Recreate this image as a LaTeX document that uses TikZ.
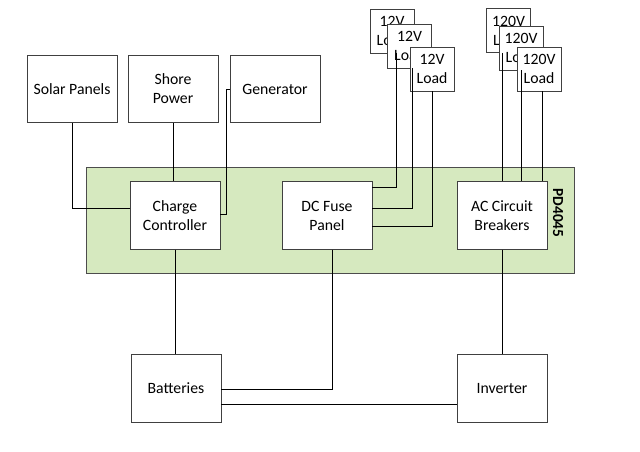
\documentclass[tikz,border=0pt]{standalone}
\usepackage{fontspec}
\setmainfont{Carlito}
\usepackage{tikz}

\begin{document}
\begin{tikzpicture}[x=0.75pt,y=-0.75pt,line width=0.6pt,align=center,
        font=\fontsize{11.8pt}{14.25pt}\selectfont,
        block/.style={draw=black!75,fill=white,minimum width=67.5pt,minimum height=50.6pt,inner sep=1pt},
        load/.style={block,minimum width=33pt,minimum height=33pt,inner sep=0pt},
        wire/.style={draw=black}]
        \useasboundingbox (0,0) rectangle (640,451);

        \node[draw=black!70,fill=green!30!olive!25!white,minimum width=366pt,minimum height=79.5pt] (pd) at (330,220) {};
        \node[rotate=-90,font=\fontsize{11.5pt}{14pt}\selectfont\bfseries] (pdname) at (558,213) {PD4045};

        \node[block] (sol) at (72,89) {Solar Panels};
        \node[block] (shore) at (173,89) {Shore\\Power};
        \node[block] (gen) at (275,89) {Generator};
        \node[block] (cc) at (175,215.5) {Charge\\Controller};
        \node[block] (dc) at (327,215.5) {DC Fuse\\Panel};
        \node[block] (ac) at (502,215.5) {AC Circuit\\Breakers};
        \node[block] (bat) at (176,388.5) {Batteries};
        \node[block] (inv) at (502,388.5) {Inverter};

        \node[load] (dl1) at (392,31) {12V\\Load};
        \node[load] (dl2) at (409.5,46) {12V\\Load};
        \node[load] (dl3) at (432,69) {12V\\Load};
        \node[load] (al1) at (508.5,30.5) {120V\\Load};
        \node[load] (al2) at (521,48) {120V\\Load};
        \node[load] (al3) at (539,69) {120V\\Load};

        \path[wire] (sol.south) |- ([yshift=5.3pt]cc.west)
                    (shore.south) -- (shore.south |- cc.north)
                    (gen.west) -- ++(-3,0) |- ([yshift=1pt]cc.east)
                    (cc.south) -- (cc.south |- bat.north)
                    ([xshift=3.75pt]dc.south) |- ([yshift=-1pt]bat.east)
                    ([yshift=-11.6pt]bat.east) -- ([yshift=-11.6pt]bat.east -| inv.west)
                    (ac.south) -- (inv.north)
                    ([xshift=3pt]dl1.south) |- ([yshift=21.4pt]dc.east)
                    ([xshift=1.9pt]dl2.south) |- ([yshift=5.6pt]dc.east)
                    (dl3.south) |- ([yshift=-7.9pt]dc.east)
                    ([xshift=-4.9pt]al1.south) -- ([xshift=-4.9pt]al1.south |- ac.north)
                    (al2.south) -- (al2.south |- ac.north)
                    ([xshift=2.25pt]al3.south) -- ([xshift=2.25pt]al3.south |- ac.north);
    \end{tikzpicture}
\end{document}
